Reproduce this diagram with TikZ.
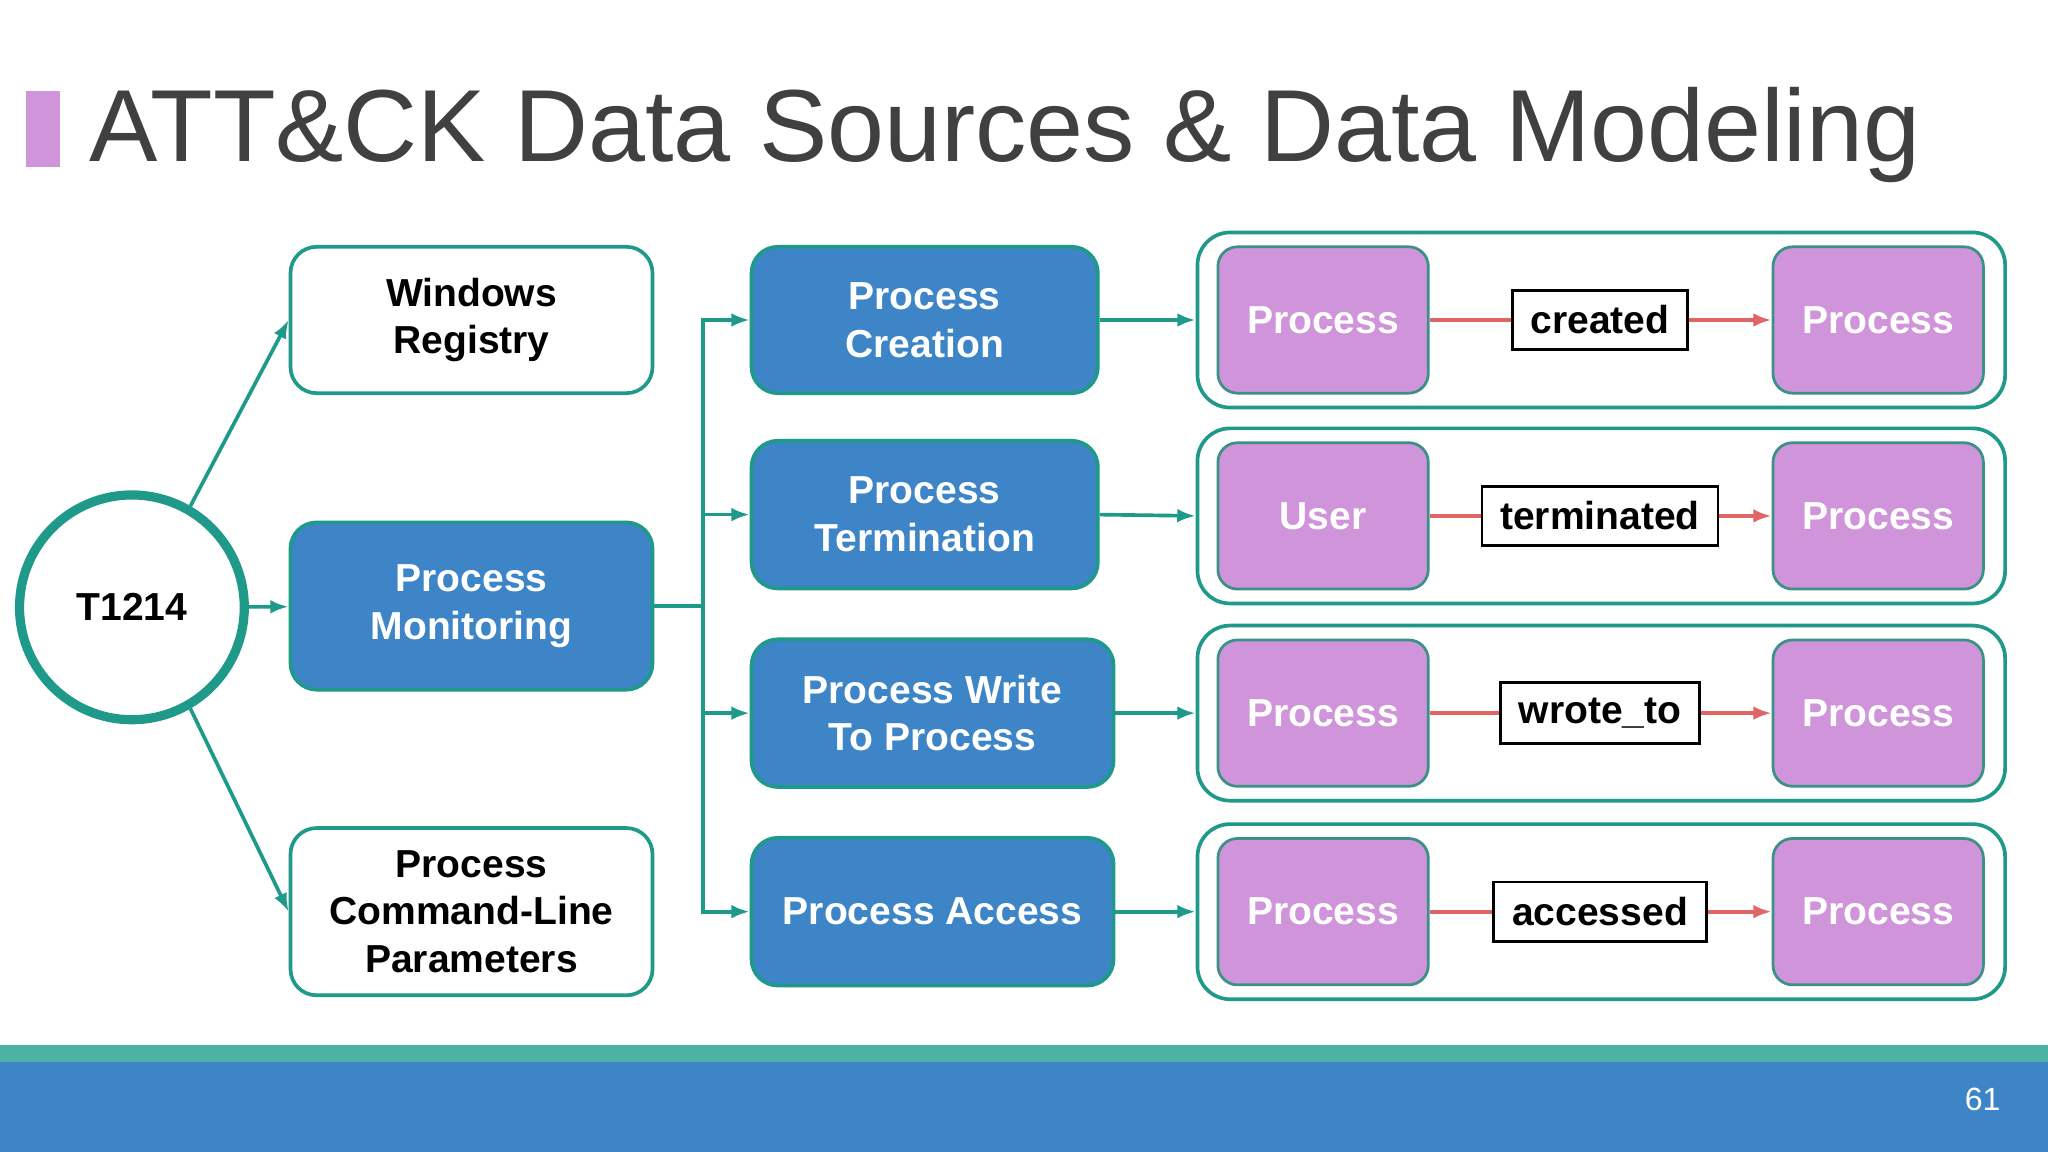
\documentclass[tikz,border=0pt]{standalone}
\usepackage{fontspec}
\setmainfont{Liberation Sans}
\usetikzlibrary{calc}
\usetikzlibrary{arrows.meta}
\definecolor{tealc}{rgb}{0.12,0.60,0.54}
\definecolor{stripc}{rgb}{0.30,0.70,0.64}
\definecolor{bluec}{rgb}{0.24,0.52,0.78}
\definecolor{purplec}{rgb}{0.81,0.58,0.85}
\definecolor{redc}{rgb}{0.88,0.40,0.40}
\definecolor{titlec}{rgb}{0.25,0.25,0.25}
\tikzset{
  wbox/.style={draw=tealc,line width=0.8pt,fill=white,rounded corners=0.2cm,align=center,font=\bfseries\fontsize{8.5}{10.4}\selectfont},
  bbox/.style={draw=tealc,line width=0.8pt,fill=bluec,text=white,rounded corners=0.2cm,align=center,font=\bfseries\fontsize{8.5}{10.4}\selectfont},
  pbox/.style={draw=tealc!70!gray,line width=0.6pt,fill=purplec,text=white,rounded corners=0.15cm,minimum width=1.61cm,minimum height=1.12cm,font=\bfseries\fontsize{8.5}{10.4}\selectfont},
  grp/.style={draw=tealc,line width=0.8pt,rounded corners=0.25cm},
  lbl/.style={draw=black,line width=0.6pt,fill=white,minimum height=0.42cm,inner xsep=0.14cm,font=\bfseries\fontsize{8.5}{10.4}\selectfont},
  tl/.style={tealc,line width=0.8pt,-{Latex[length=4pt]}},
  rl/.style={redc,line width=0.8pt,-{Latex[length=4pt]}}
}
\begin{document}
\begin{tikzpicture}[x=0.01cm,y=-0.01cm]
\useasboundingbox[fill=white] (0,0) rectangle (1568,882);
% title
\fill[purplec] (20,70) rectangle (46,128);
\node[anchor=base west,text=titlec,font=\fontsize{22.3}{26}\selectfont,inner sep=0] (title) at (68,124) {ATT\&CK Data Sources \& Data Modeling};
% footer
\fill[stripc] (0,800) rectangle (1568,813);
\fill[bluec] (0,813) rectangle (1568,882);
\node[text=white,font=\fontsize{7}{8}\selectfont] (page) at (1518,842) {61};
% technique
\node[circle,draw=tealc,line width=2pt,minimum size=1.72cm,font=\bfseries\fontsize{8.5}{10.4}\selectfont] (tech) at (101,465) {T1214};
\node[wbox,minimum width=2.77cm,minimum height=1.12cm] (reg) at (361,245) {Windows\\Registry};
\node[bbox,minimum width=2.77cm,minimum height=1.28cm] (mon) at (361,464) {Process\\Monitoring};
\node[wbox,minimum width=2.77cm,minimum height=1.28cm] (cmd) at (361,698) {Process\\Command-Line\\Parameters};
\draw[tl] (tech.60) -- (reg.west);
\draw[tl] (tech) -- (mon);
\draw[tl] (tech.-60) -- (cmd.west);
% data components
\node[bbox,minimum width=2.65cm,minimum height=1.12cm] (crea) at (708,245) {Process\\Creation};
\node[bbox,minimum width=2.65cm,minimum height=1.13cm] (term) at (708,394) {Process\\Termination};
\node[bbox,minimum width=2.77cm,minimum height=1.13cm] (wrt) at (714,546) {Process Write\\To Process};
\node[bbox,minimum width=2.77cm,minimum height=1.13cm] (acc) at (714,698) {Process Access};
\coordinate (split) at (538,464);
\draw[tealc,line width=0.8pt] (mon.east) -- (split);
\foreach \n in {crea,term,wrt,acc}
  \draw[tl] (split) |- (\n.west);
% relationships
\foreach \n/\y/\src/\rel in {crea/245/Process/created,term/395/User/terminated,wrt/546/Process/wrote\_to,acc/698/Process/accessed}{
  \node[grp,minimum width=6.18cm,minimum height=1.34cm] (g\n) at (1226,\y) {};
  \node[pbox] (s\n) at (1013,\y) {\src};
  \node[pbox] (t\n) at (1438,\y) {Process};
  \node[lbl] (r\n) at (1225,\y) {\rel};
  \draw[redc,line width=0.8pt] (s\n) -- (r\n);
  \draw[rl] (r\n) -- (t\n);
  \draw[tl] (\n.east) -- (g\n.west);
}
\end{tikzpicture}
\end{document}
